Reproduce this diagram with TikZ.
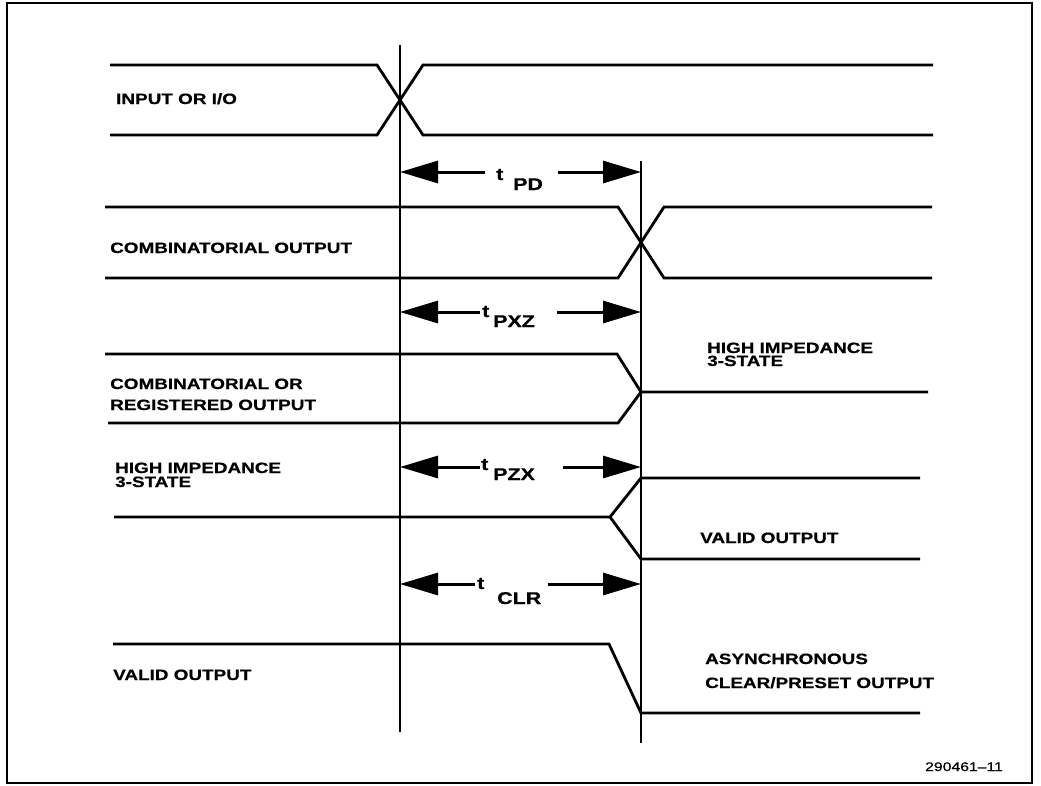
\documentclass[tikz,border=0pt]{standalone}
\usepackage{fontspec}
\setmainfont[FakeStretch=1.26,FakeBold=0.6]{Liberation Sans}
\usetikzlibrary{arrows.meta}
\begin{document}
\begin{tikzpicture}[x=1pt,y=-1pt,
  sig/.style={line width=2.8pt, line join=miter, line cap=butt},
  vline/.style={line width=2pt},
  tarrow/.style={line width=3pt, -{Triangle[length=38pt,width=22pt]}},
  lab/.style={anchor=base west, inner sep=0pt, font=\fontsize{15}{15}\selectfont\bfseries},
  tl/.style={anchor=base west, inner sep=0pt, font=\fontsize{17}{17}\selectfont\bfseries},
  sub/.style={anchor=base west, inner sep=0pt, font=\fontsize{17}{17}\selectfont\bfseries},
  fig/.style={anchor=base west, inner sep=0pt, font=\fontsize{12.5}{12.5}\selectfont},
]
\useasboundingbox (0,0) rectangle (1041,785);
\draw[line width=1.2pt] (7,3) rectangle (1032,783);

% reference lines
\coordinate (v1t) at (400,45);  \coordinate (v1b) at (400,732);
\coordinate (v2t) at (641,161); \coordinate (v2b) at (641,743);
\draw[vline] (v1t) -- (v1b);
\draw[vline] (v2t) -- (v2b);

% input or I/O
\draw[sig] (110,65) -- (377,65) -- (423,135) -- (933,135);
\draw[sig] (110,135) -- (377,135) -- (423,65) -- (933,65);
\node[lab] (in) at (116,104) {INPUT OR I/O};

% combinatorial output
\draw[sig] (105,207) -- (618,207) -- (664,278) -- (932,278);
\draw[sig] (105,278) -- (618,278) -- (664,207) -- (932,207);
\node[lab] (co) at (110,253) {COMBINATORIAL OUTPUT};

% to high impedance
\draw[sig] (105,354) -- (617,354) -- (641,392);
\draw[sig] (108,423) -- (618,423) -- (641,392) -- (928,392);
\node[lab] (cr1) at (110,389) {COMBINATORIAL OR};
\node[lab] (cr2) at (110,410) {REGISTERED OUTPUT};
\node[lab] (hz1) at (707,353) {HIGH IMPEDANCE};
\node[lab] (hz2) at (707,366) {3-STATE};

% from high impedance
\draw[sig] (114,517) -- (610,517) -- (641,478) -- (920,478);
\draw[sig] (610,517) -- (641,559) -- (920,559);
\node[lab] (lz1) at (115,473) {HIGH IMPEDANCE};
\node[lab] (lz2) at (115,487) {3-STATE};
\node[lab] (vo1) at (700,543) {VALID OUTPUT};

% clear / preset
\draw[sig] (113,644) -- (609,644) -- (641,713) -- (920,713);
\node[lab] (vo2) at (113,680) {VALID OUTPUT};
\node[lab] (as1) at (705,664) {ASYNCHRONOUS};
\node[lab] (as2) at (705,688) {CLEAR/PRESET OUTPUT};

% timing arrows
\coordinate (pdA) at (485,172); \coordinate (pdB) at (558,172);
\draw[tarrow] (pdA) -- (v1t |- pdA);
\draw[tarrow] (pdB) -- (v2t |- pdB);
\node[tl] (pdt) at (496,180) {t};
\node[sub] (pds) at (513,190) {PD};

\coordinate (xzA) at (480,312); \coordinate (xzB) at (557,312);
\draw[tarrow] (xzA) -- (v1t |- xzA);
\draw[tarrow] (xzB) -- (v2t |- xzB);
\node[tl] (xzt) at (482,317) {t};
\node[sub] (xzs) at (493,327) {PXZ};

\coordinate (zxA) at (480,467); \coordinate (zxB) at (563,467);
\draw[tarrow] (zxA) -- (v1t |- zxA);
\draw[tarrow] (zxB) -- (v2t |- zxB);
\node[tl] (zxt) at (481,470) {t};
\node[sub] (zxs) at (493,480) {PZX};

\coordinate (clA) at (475,584); \coordinate (clB) at (548,584);
\draw[tarrow] (clA) -- (v1t |- clA);
\draw[tarrow] (clB) -- (v2t |- clB);
\node[tl] (clt) at (477,589) {t};
\node[sub] (cls) at (497,604) {CLR};

\node[fig] (fn) at (925,771) {290461--11};
\end{tikzpicture}
\end{document}
